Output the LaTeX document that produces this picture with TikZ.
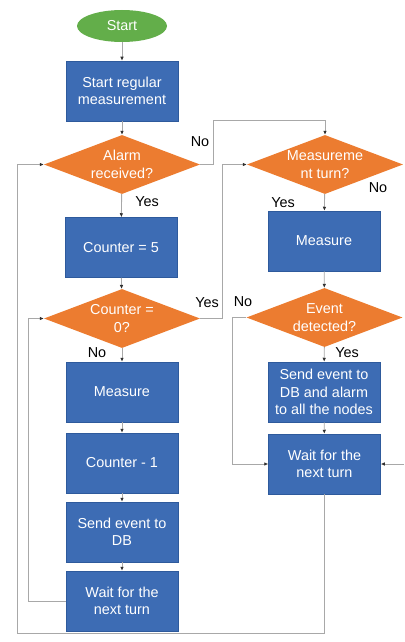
\documentclass[tikz,border=0pt]{standalone}
\usepackage{fontspec}
\setmainfont{Liberation Sans}
\usetikzlibrary{shapes.geometric,arrows.meta}
\definecolor{boxblue}{HTML}{3D6CB4}
\definecolor{boxedge}{HTML}{2E5A9C}
\definecolor{decor}{HTML}{EC7C30}
\definecolor{startgreen}{HTML}{63AE4A}
\definecolor{wire}{HTML}{A8A8A8}
\definecolor{tipc}{HTML}{303030}
\tikzset{
  base/.style={font=\fontsize{14.4}{17.5}\selectfont, text=white, align=center, inner sep=0pt},
  procbox/.style={base, rectangle, fill=boxblue, draw=boxedge, line width=0.5pt,
    minimum width=112pt, minimum height=60pt},
  decision/.style={base, diamond, fill=decor, minimum width=156pt, minimum height=59pt, aspect=2.6},
  terminal/.style={base, ellipse, fill=startgreen, minimum width=90pt, minimum height=32pt},
  flow/.style={draw=wire, line width=0.9pt, -{Latex[length=4pt,width=3.6pt,color=tipc]}},
  plain/.style={draw=wire, line width=0.9pt},
  tag/.style={font=\fontsize{14.4}{17.5}\selectfont, text=black, inner sep=0pt}
}
\begin{document}
\begin{tikzpicture}[x=1pt,y=-1pt]
\useasboundingbox (0,0) rectangle (404,642);

% left column
\node[terminal] (start) at (122,26) {Start};
\node[procbox] (srm) at (122,91) {Start regular\\measurement};
\node[decision] (alarm) at (122,164.5) {Alarm\\received?};
\node[procbox] (c5) at (121,247.5) {Counter = 5};
\node[decision] (c0) at (122,318.5) {Counter =\\0?};
\node[procbox] (meas1) at (122,392) {Measure};
\node[procbox] (cm1) at (122,463) {Counter - 1};
\node[procbox] (send1) at (122,532) {Send event to\\DB};
\node[procbox] (wait1) at (122,601) {Wait for the\\next turn};

% right column
\node[decision] (mturn) at (325,164.5) {Measureme\\nt turn?};
\node[procbox] (meas2) at (324,241) {Measure};
\node[decision] (event) at (324.5,317.5) {Event\\detected?};
\node[procbox] (send2) at (324,392) {Send event to\\DB and alarm\\to all the nodes};
\node[procbox] (wait2) at (324.5,464) {Wait for the\\next turn};

% corner points of the routed connectors
\coordinate (a1) at (213,164.5);
\coordinate (a2) at (213,120);
\coordinate (a3) at (325,120);
\coordinate (b1) at (222,318.5);
\coordinate (b2) at (222,164.5);
\coordinate (l1) at (28,601);
\coordinate (l2) at (28,318.5);
\coordinate (o1) at (324.5,633);
\coordinate (o2) at (17,633);
\coordinate (o3) at (17,164.5);
\coordinate (e1) at (232,317.5);
\coordinate (e2) at (232,464);
\coordinate (rin) at (404,464);

% straight flow
\draw[flow] (start) -- (srm);
\draw[flow] (srm) -- (alarm);
\draw[flow] (alarm) -- (c5);
\draw[flow] (c5) -- (c0);
\draw[flow] (c0) -- (meas1);
\draw[flow] (meas1) -- (cm1);
\draw[flow] (cm1) -- (send1);
\draw[flow] (send1) -- (wait1);
\draw[flow] (mturn) -- (meas2);
\draw[flow] (meas2) -- (event);
\draw[flow] (event) -- (send2);
\draw[flow] (send2) -- (wait2);

% routed flow
\draw[flow] (alarm.east) -- (a1) -- (a2) -- (a3) -- (mturn.north);
\draw[flow] (c0.east) -- (b1) -- (b2) -- (mturn.west);
\draw[flow] (wait1.west) -- (l1) -- (l2) -- (c0.west);
\draw[flow] (wait2.south) -- (o1) -- (o2) -- (o3) -- (alarm.west);
\draw[flow] (event.west) -- (e1) -- (e2) -- (wait2.west);
\draw[flow] (rin) -- (wait2.east);

% branch labels
\node[tag] at (200,142) {No};
\node[tag] at (147,202) {Yes};
\node[tag] at (207,303) {Yes};
\node[tag] at (97,353) {No};
\node[tag] at (283,203) {Yes};
\node[tag] at (378,188) {No};
\node[tag] at (243,302) {No};
\node[tag] at (347,353) {Yes};
\end{tikzpicture}
\end{document}
